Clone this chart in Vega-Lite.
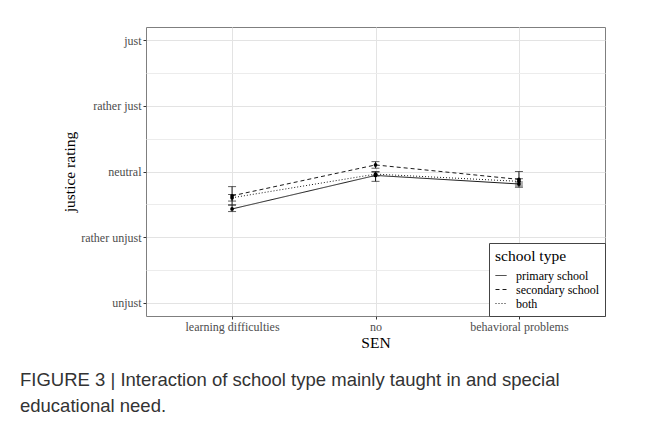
{
  "$schema": "https://vega.github.io/schema/vega-lite/v6.json",
  "autosize": {"type": "none"},
  "width": 459,
  "height": 289,
  "padding": {"left": 146, "top": 27, "right": 52, "bottom": 124},
  "background": "white",
  "title": {
    "text": ["FIGURE 3 | Interaction of school type mainly taught in and special", "educational need."],
    "orient": "bottom",
    "anchor": "start",
    "frame": "group",
    "dx": -126,
    "offset": 20,
    "font": "Liberation Sans",
    "fontSize": 18.5,
    "fontWeight": "normal",
    "lineHeight": 26,
    "color": "#333333"
  },
  "data": {
    "values": [
      {"SEN": "learning difficulties", "school": "primary school", "mean": 2.43, "lo": 2.39, "hi": 2.49},
      {"SEN": "no", "school": "primary school", "mean": 2.94, "lo": 2.85, "hi": 3.0},
      {"SEN": "behavioral problems", "school": "primary school", "mean": 2.81, "lo": 2.78, "hi": 2.84},
      {"SEN": "learning difficulties", "school": "secondary school", "mean": 2.63, "lo": 2.49, "hi": 2.77},
      {"SEN": "no", "school": "secondary school", "mean": 3.1, "lo": 3.05, "hi": 3.15},
      {"SEN": "behavioral problems", "school": "secondary school", "mean": 2.88, "lo": 2.76, "hi": 3.0},
      {"SEN": "learning difficulties", "school": "both", "mean": 2.6, "lo": 2.55, "hi": 2.65},
      {"SEN": "no", "school": "both", "mean": 2.96, "lo": 2.93, "hi": 2.99},
      {"SEN": "behavioral problems", "school": "both", "mean": 2.85, "lo": 2.81, "hi": 2.89}
    ]
  },
  "encoding": {
    "x": {
      "field": "SEN",
      "type": "nominal",
      "sort": ["learning difficulties", "no", "behavioral problems"],
      "scale": {"type": "point", "padding": 0.6},
      "axis": {
        "title": "SEN",
        "labelAngle": 0,
        "grid": true,
        "gridColor": "#e3e3e3",
        "gridWidth": 1,
        "tickSize": 3,
        "tickColor": "#333333",
        "labelPadding": 2,
        "titlePadding": 3
      }
    }
  },
  "layer": [
    {
      "mark": {"type": "line", "color": "#1a1a1a", "strokeWidth": 1},
      "encoding": {
        "y": {
          "field": "mean",
          "type": "quantitative",
          "title": "justice rating",
          "scale": {"domain": [0.8, 5.2], "nice": false, "zero": false},
          "axis": {
            "title": "justice rating",
            "values": [1, 1.5, 2, 2.5, 3, 3.5, 4, 4.5, 5],
            "labelExpr": "datum.value == 1 ? 'unjust' : datum.value == 2 ? 'rather unjust' : datum.value == 3 ? 'neutral' : datum.value == 4 ? 'rather just' : datum.value == 5 ? 'just' : ''",
            "grid": true,
            "gridColor": {"expr": "datum.value % 1 === 0 ? '#e3e3e3' : '#ececec'"},
            "gridWidth": 1,
            "tickOpacity": {"expr": "datum.value % 1 === 0 ? 1 : 0"},
            "tickSize": 3,
            "tickColor": "#333333",
            "labelPadding": 2,
            "titlePadding": 3
          }
        },
        "strokeDash": {
          "field": "school",
          "type": "nominal",
          "title": "school type",
          "scale": {
            "domain": ["primary school", "secondary school", "both"],
            "range": [[1, 0], [4, 3], [1, 2]]
          },
          "legend": {
            "orient": "bottom-right",
            "offset": 0,
            "symbolType": "stroke",
            "symbolSize": 121,
            "symbolStrokeWidth": 1,
            "symbolStrokeColor": "#1a1a1a",
            "labelOffset": 9
          }
        }
      }
    },
    {
      "mark": {"type": "errorbar", "color": "#1a1a1a", "thickness": 1, "ticks": {"size": 8, "thickness": 1, "color": "#1a1a1a"}},
      "encoding": {
        "y": {
          "field": "lo",
          "type": "quantitative",
          "title": "justice rating",
          "axis": {
            "title": "justice rating",
            "values": [1, 1.5, 2, 2.5, 3, 3.5, 4, 4.5, 5],
            "labelExpr": "datum.value == 1 ? 'unjust' : datum.value == 2 ? 'rather unjust' : datum.value == 3 ? 'neutral' : datum.value == 4 ? 'rather just' : datum.value == 5 ? 'just' : ''",
            "grid": true,
            "gridColor": {"expr": "datum.value % 1 === 0 ? '#e3e3e3' : '#ececec'"},
            "gridWidth": 1,
            "tickOpacity": {"expr": "datum.value % 1 === 0 ? 1 : 0"},
            "tickSize": 3,
            "tickColor": "#333333",
            "labelPadding": 2,
            "titlePadding": 3
          }
        },
        "y2": {"field": "hi"}
      }
    },
    {
      "mark": {"type": "point", "filled": true, "color": "#000000", "size": 14, "opacity": 1},
      "encoding": {
        "y": {
          "field": "mean",
          "type": "quantitative",
          "title": "justice rating",
          "axis": {
            "title": "justice rating",
            "values": [1, 1.5, 2, 2.5, 3, 3.5, 4, 4.5, 5],
            "labelExpr": "datum.value == 1 ? 'unjust' : datum.value == 2 ? 'rather unjust' : datum.value == 3 ? 'neutral' : datum.value == 4 ? 'rather just' : datum.value == 5 ? 'just' : ''",
            "grid": true,
            "gridColor": {"expr": "datum.value % 1 === 0 ? '#e3e3e3' : '#ececec'"},
            "gridWidth": 1,
            "tickOpacity": {"expr": "datum.value % 1 === 0 ? 1 : 0"},
            "tickSize": 3,
            "tickColor": "#333333",
            "labelPadding": 2,
            "titlePadding": 3
          }
        }
      }
    }
  ],
  "config": {
    "view": {"stroke": "#7f7f7f", "strokeWidth": 1},
    "axis": {
      "domain": false,
      "labelFont": "Liberation Serif",
      "labelFontSize": 12,
      "labelColor": "#4d4d4d",
      "titleFont": "Liberation Serif",
      "titleFontSize": 15.5,
      "titleFontWeight": "normal",
      "titleColor": "#000000"
    },
    "legend": {
      "titleFont": "Liberation Serif",
      "titleFontSize": 15.5,
      "titleFontWeight": "normal",
      "titleColor": "#000000",
      "labelFont": "Liberation Serif",
      "labelFontSize": 12,
      "labelColor": "#000000",
      "strokeColor": "#444444",
      "fillColor": "white",
      "padding": 6,
      "rowPadding": 2,
      "titlePadding": 5
    }
  }
}
